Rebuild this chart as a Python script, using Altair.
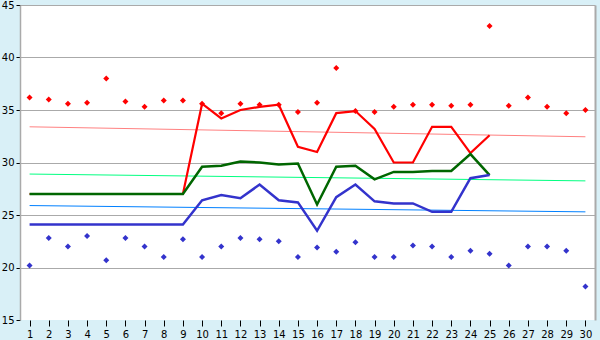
import altair as alt
import pandas as pd

days = list(range(1, 31))
max_pts = [36.2, 36.0, 35.6, 35.7, 38.0, 35.8, 35.3, 35.9, 35.9, 35.6,
           34.7, 35.6, 35.5, 35.5, 34.8, 35.7, 39.0, 34.9, 34.8, 35.3,
           35.5, 35.5, 35.4, 35.5, 43.0, 35.4, 36.2, 35.3, 34.7, 35.0]
min_pts = [20.2, 22.8, 22.0, 23.0, 20.7, 22.8, 22.0, 21.0, 22.7, 21.0,
           22.0, 22.8, 22.7, 22.5, 21.0, 21.9, 21.5, 22.4, 21.0, 21.0,
           22.1, 22.0, 21.0, 21.6, 21.3, 20.2, 22.0, 22.0, 21.6, 18.2]

line_days = list(range(1, 26))
red_line = [27.0, 27.0, 27.0, 27.0, 27.0, 27.0, 27.0, 27.0, 27.0, 35.6,
            34.2, 35.0, 35.3, 35.5, 31.5, 31.0, 34.7, 34.9, 33.2, 30.0,
            30.0, 33.4, 33.4, 30.9, 32.6]
green_line = [27.0, 27.0, 27.0, 27.0, 27.0, 27.0, 27.0, 27.0, 27.0, 29.6,
              29.7, 30.1, 30.0, 29.8, 29.9, 26.0, 29.6, 29.7, 28.4, 29.1,
              29.1, 29.2, 29.2, 30.8, 28.8]
blue_line = [24.1, 24.1, 24.1, 24.1, 24.1, 24.1, 24.1, 24.1, 24.1, 26.4,
             26.9, 26.6, 27.9, 26.4, 26.2, 23.5, 26.7, 27.9, 26.3, 26.1,
             26.1, 25.3, 25.3, 28.5, 28.8]

norm_days = [1, 30]
norm_max = [33.4, 32.45]
norm_mean = [28.9, 28.25]
norm_min = [25.9, 25.3]

y_ticks = [15, 20, 25, 30, 35, 40, 45]

pts = pd.DataFrame({"day": days, "max": max_pts, "min": min_pts})
lines = pd.concat([
    pd.DataFrame({"day": line_days, "value": red_line, "s": "red"}),
    pd.DataFrame({"day": line_days, "value": green_line, "s": "green"}),
    pd.DataFrame({"day": line_days, "value": blue_line, "s": "blue"}),
])
norms = pd.concat([
    pd.DataFrame({"day": norm_days, "value": norm_max, "s": "nmax"}),
    pd.DataFrame({"day": norm_days, "value": norm_mean, "s": "nmean"}),
    pd.DataFrame({"day": norm_days, "value": norm_min, "s": "nmin"}),
])


def xs():
    return alt.Scale(domain=[0.5, 30.5], nice=False, zero=False)


def ys():
    return alt.Scale(domain=[15, 45], nice=False, zero=False)


x_axis = alt.Axis(values=days, format="d", grid=False, domain=False,
                  tickColor="black", tickSize=6, labelPadding=3,
                  title=None, labelFlush=False, labelOverlap=False)
y_axis = alt.Axis(orient="left", values=y_ticks, grid=True, gridColor="#AAAAAA",
                  gridOpacity=alt.condition(alt.datum.value == 15, alt.value(0), alt.value(1)),
                  domainColor="#AAAAAA", domainWidth=1.5,
                  tickColor="black", tickSize=4, labelPadding=2, title=None)
y_right = alt.Axis(orient="right", values=y_ticks, grid=False, labels=False,
                   ticks=False, domainColor="#AAAAAA", domainWidth=2, title=None)

norm_layer = alt.Chart(norms).mark_line(strokeWidth=1).encode(
    x=alt.X("day:Q", scale=xs(), axis=x_axis),
    y=alt.Y("value:Q", scale=ys(), axis=y_axis),
    color=alt.Color("s:N", scale=alt.Scale(domain=["nmax", "nmean", "nmin"],
                                           range=["#FF8080", "#00FF80", "#0080FF"]),
                    legend=None),
)

red = alt.Chart(lines[lines.s == "red"]).mark_line(color="#FF0000", strokeWidth=2.2).encode(
    x=alt.X("day:Q", scale=xs(), axis=x_axis),
    y=alt.Y("value:Q", scale=ys(), axis=y_right),
)
green = alt.Chart(lines[lines.s == "green"]).mark_line(color="#006600", strokeWidth=2.5).encode(
    x=alt.X("day:Q", scale=xs(), axis=x_axis),
    y=alt.Y("value:Q", scale=ys(), axis=None),
)
blue = alt.Chart(lines[lines.s == "blue"]).mark_line(color="#3333CC", strokeWidth=2.5).encode(
    x=alt.X("day:Q", scale=xs(), axis=x_axis),
    y=alt.Y("value:Q", scale=ys(), axis=None),
)

max_layer = alt.Chart(pts).mark_point(shape="diamond", filled=True, size=36,
                                      color="#FF0000", opacity=1).encode(
    x=alt.X("day:Q", scale=xs(), axis=x_axis),
    y=alt.Y("max:Q", scale=ys(), axis=None),
)
min_layer = alt.Chart(pts).mark_point(shape="diamond", filled=True, size=36,
                                      color="#3333CC", opacity=1).encode(
    x=alt.X("day:Q", scale=xs(), axis=x_axis),
    y=alt.Y("min:Q", scale=ys(), axis=None),
)

chart = alt.layer(norm_layer, red, green, blue, max_layer, min_layer).resolve_scale(
    y="independent"
).properties(
    width=575, height=315,
    background="#D9F0F7",
    padding={"left": 20, "top": 5, "right": 5, "bottom": 20},
    autosize=alt.AutoSizeParams(type="none"),
).configure_view(
    fill="white", stroke=None,
).configure_axis(
    labelFont="DejaVu Sans", labelFontSize=10, labelColor="black",
)

chart.save("out.html", embed_options={"renderer": "svg", "actions": False})
